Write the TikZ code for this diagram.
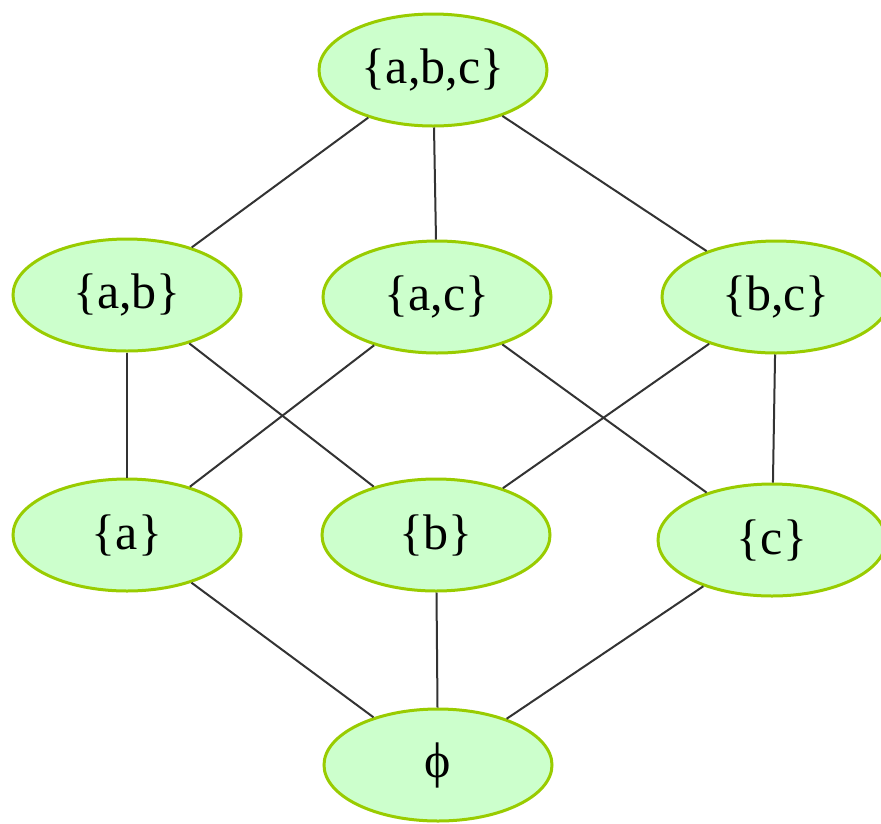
\documentclass[tikz,border=0pt]{standalone}
\usepackage{fontspec}
\setmainfont{Liberation Serif}
\usetikzlibrary{shapes.geometric}
\definecolor{setfill}{HTML}{CCFFCC}
\definecolor{setline}{HTML}{99CC00}
\begin{document}
\begin{tikzpicture}[x=1pt,y=-1pt, every node/.style={font=\fontsize{50}{58}\selectfont}]
  \tikzstyle{st}=[draw=setline,fill=setfill,ellipse,line width=3pt,minimum width=228pt,minimum height=112pt,inner sep=0pt]
  \tikzstyle{ln}=[line width=2pt,black!80]
  \useasboundingbox (0,0) rectangle (881,823);
  \node[st] (abc) at (433,70) {\{a,b,c\}};
  \node[st] (ab) at (127,295) {\{a,b\}};
  \node[st] (ac) at (437,297) {\{a,c\}};
  \node[st] (bc) at (776,297) {\{b,c\}};
  \node[st] (a) at (127,535) {\{a\}};
  \node[st] (b) at (436,535) {\{b\}};
  \node[st] (c) at (772,540) {\{c\}};
  \node[st] (e) at (438,765) {ϕ};
  \draw[ln] (abc) -- (ab);
  \draw[ln] (abc) -- (ac);
  \draw[ln] (abc) -- (bc);
  \draw[ln] (ab) -- (a);
  \draw[ln] (ab) -- (b);
  \draw[ln] (ac) -- (a);
  \draw[ln] (ac) -- (c);
  \draw[ln] (bc) -- (b);
  \draw[ln] (bc) -- (c);
  \draw[ln] (a) -- (e);
  \draw[ln] (b) -- (e);
  \draw[ln] (c) -- (e);
\end{tikzpicture}
\end{document}
